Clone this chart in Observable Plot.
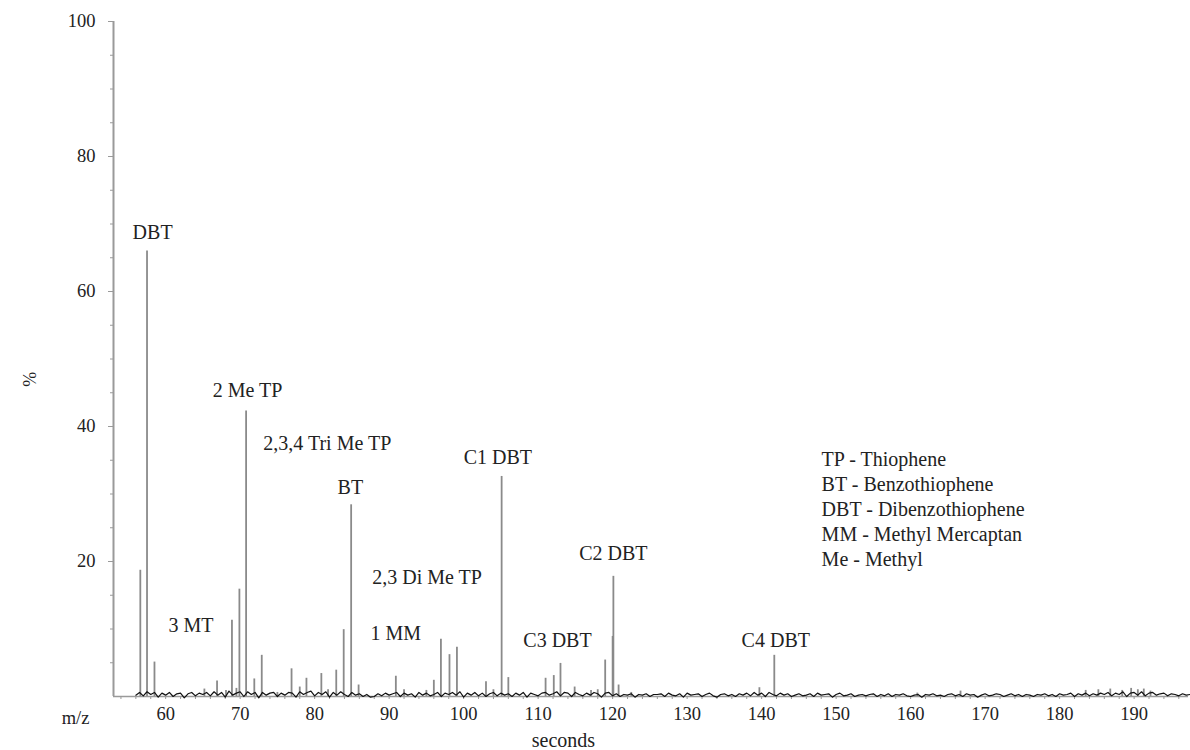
<!DOCTYPE html>
<html>
<head>
<meta charset="utf-8">
<script src="https://cdn.jsdelivr.net/npm/d3@7"></script>
<script src="https://cdn.jsdelivr.net/npm/@observablehq/plot@0.6"></script>
<style>
  html, body { margin: 0; padding: 0; background: #fff; }
</style>
</head>
<body>
<div id="chart"></div>
<script>
// Peak retention times (seconds) and intensities (%)
const peakTimes = [56.6, 57.5, 58.5, 65.2, 66.9, 68.1, 68.9, 69.5, 69.9, 70.8, 71.9, 72.9, 75.0, 76.9, 78.0, 78.9, 80.9, 81.8, 82.9, 83.9, 84.9, 85.9, 90.9, 92.0, 95.0, 96.0, 96.95, 98.1, 99.1, 103.0, 104.0, 105.1, 106.0, 111.0, 112.1, 113.0, 114.9, 117.1, 118.0, 119.0, 120.0, 120.1, 120.8, 122.5, 139.7, 141.7, 160.9, 166.7, 183.5, 185.2, 186.8, 188.4, 189.6, 190.5, 191.3, 192.2];
const peakHeights = [18.7, 66.0, 5.1, 1.1, 2.3, 0.9, 11.3, 1.2, 15.9, 42.3, 2.6, 6.1, 0.6, 4.1, 1.4, 2.7, 3.4, 1.0, 3.9, 9.9, 28.4, 1.7, 3.0, 1.0, 0.9, 2.4, 8.5, 6.2, 7.3, 2.2, 1.0, 32.6, 2.8, 2.7, 3.1, 4.9, 1.4, 0.9, 1.0, 5.4, 8.9, 17.8, 1.7, 0.6, 1.3, 6.1, 0.5, 0.8, 0.9, 1.0, 1.1, 0.9, 1.2, 1.0, 1.1, 0.8];

// Baseline noise, sampled every 0.5 s from 56.0 s
const noiseStart = 56.0;
const noiseStep = 0.5;
const noiseValues = [
  0.2,0.6,0.1,0.7,0.3,0.6,-0.1,0.5,0.2,0.6,0.0,0.4,0.5,-0.2,0.4,0.6,0.1,0.5,0.3,0.6,
  0.1,0.7,0.2,0.6,-0.1,0.8,0.2,0.5,0.7,0.0,0.7,0.3,0.6,-0.2,0.6,0.2,0.5,0.6,0.0,0.5,
  0.2,0.6,0.5,-0.1,0.7,0.3,0.6,0.8,0.1,0.6,0.3,0.7,-0.1,0.6,0.2,0.7,0.3,0.0,0.6,0.2,
  0.4,0.0,0.3,-0.1,0.0,0.4,0.1,0.5,0.2,0.4,0.6,0.0,0.5,0.2,0.4,-0.1,0.6,0.2,0.5,0.1,
  0.3,0.6,0.0,0.5,0.3,0.6,0.2,0.7,-0.1,0.5,0.2,0.6,0.1,0.5,0.0,0.4,0.6,0.1,0.5,0.2,
  0.4,0.0,0.5,0.2,0.6,-0.1,0.5,0.3,0.1,0.5,0.6,0.2,0.4,0.7,0.1,0.6,0.5,0.0,0.6,0.3,
  0.1,0.5,0.2,0.6,0.4,-0.1,0.5,0.6,0.1,0.4,0.0,0.3,0.2,0.4,-0.1,0.3,0.2,0.4,0.0,0.3,
  0.3,0.4,0.0,0.5,0.2,0.1,0.4,-0.1,0.5,0.2,0.3,0.4,0.0,0.3,0.5,0.1,-0.1,0.3,0.4,0.1,
  0.3,0.0,0.4,0.2,0.5,0.1,0.6,0.2,0.5,0.0,0.6,0.3,0.1,0.5,0.2,0.4,0.0,0.2,0.4,0.1,
  0.2,0.4,0.0,0.5,0.2,0.3,0.4,-0.1,0.3,0.5,0.1,0.2,0.4,0.0,0.2,0.3,0.1,0.3,0.4,0.0,
  0.3,0.1,0.4,0.0,0.3,0.2,0.4,0.1,0.0,0.2,0.3,-0.1,0.3,0.2,0.4,0.1,0.2,0.0,0.3,0.4,
  0.1,0.3,0.0,0.4,0.2,0.3,-0.1,0.2,0.4,0.1,0.2,0.4,0.3,0.0,0.2,0.4,0.1,0.3,0.0,0.3,
  0.2,0.0,0.3,0.2,0.4,0.1,0.3,0.0,0.4,0.2,0.3,0.5,0.0,0.4,0.2,0.5,0.1,0.4,0.2,0.5,
  0.3,0.6,0.1,0.5,0.3,0.7,0.0,0.5,0.6,0.2,0.7,0.1,0.5,0.6,0.2,0.4,0.5,0.1,0.4,0.3,
  0.1,0.4,0.2,0.3
];

// Peak annotations: label, time (s), intensity (%) of the label centre
const labelNames = ["DBT", "2 Me TP", "2,3,4 Tri Me TP", "BT", "3 MT", "1 MM", "2,3 Di Me TP", "C1 DBT", "C2 DBT", "C3 DBT", "C4 DBT"];
const labelTimes = [58.25, 71.0, 81.7, 84.8, 63.4, 90.9, 95.1, 104.6, 120.1, 112.6, 141.9];
const labelLevels = [68.7, 45.3, 37.5, 31.0, 10.5, 9.3, 17.6, 35.4, 21.2, 8.3, 8.3];

// Abbreviation key
const keyLines = ["TP - Thiophene", "BT - Benzothiophene", "DBT - Dibenzothiophene", "MM - Methyl Mercaptan", "Me - Methyl"];
const keyTime = 148.05;
const keyLevel = 27.9;

// Axis ticks
const xTickLabels = [60, 70, 80, 90, 100, 110, 120, 130, 140, 150, 160, 170, 180, 190];
const xMinorTicks = d3.range(54, 198, 2);
const yMajorTicks = [20, 40, 60, 80, 100];
const yMinorTicks = d3.range(5, 100, 5).filter(v => v % 20 !== 0);

const xDomain = [53.0, 197.3];

const peaks = peakTimes.map((t, i) => ({t, h: peakHeights[i]}));
const noise = noiseValues.map((v, i) => ({t: noiseStart + i * noiseStep, v}));
const labels = labelNames.map((name, i) => ({name, t: labelTimes[i], y: labelLevels[i]}));

const FONT = "Liberation Serif";

const chart = Plot.plot({
  width: 1190,
  height: 750,
  marginLeft: 113,
  marginRight: 2,
  marginTop: 21,
  marginBottom: 54,
  x: {domain: xDomain},
  y: {domain: [0, 100]},
  style: {fontFamily: FONT, fontSize: "18px", color: "#222", background: "#fff"},
  marks: [
    // axis lines
    Plot.ruleY([0], {stroke: "#9a9a9a", strokeWidth: 1.5}),
    Plot.ruleX([xDomain[0]], {y1: 0, y2: 100, stroke: "#9a9a9a", strokeWidth: 2}),
    // y axis ticks
    Plot.axisY(yMajorTicks, {tickSize: 5, tickPadding: 13, stroke: "#9a9a9a", fontSize: 18.5, fontFamily: FONT, label: null}),
    Plot.axisY(yMinorTicks, {tickSize: 3, stroke: "#9a9a9a", text: null, label: null}),
    // x axis ticks
    Plot.axisX(xTickLabels, {tickSize: 0, tickPadding: 10, fontSize: 18.5, fontFamily: FONT, label: null}),
    Plot.axisX(xMinorTicks, {tickSize: 3, stroke: "#9a9a9a", text: null, label: null}),
    // peaks
    Plot.ruleX(peaks, {x: "t", y1: 0, y2: "h", stroke: "#8a8a8a", strokeWidth: 1.8}),
    // baseline noise
    Plot.line(noise, {x: "t", y: "v", stroke: "#111", strokeWidth: 1.2}),
    // peak labels
    Plot.text(labels, {x: "t", y: "y", text: "name", fontSize: 20, fontFamily: FONT, fill: "#222", textAnchor: "middle", lineAnchor: "middle"}),
    // abbreviation key
    Plot.text([keyLines.join("\n")], {x: keyTime, y: keyLevel, textAnchor: "start", lineAnchor: "middle", lineHeight: 1.245, fontSize: 20, fontFamily: FONT, fill: "#222"}),
    // axis titles
    Plot.text(["%"], {frameAnchor: "left", y: 47, dx: -83, rotate: -90, fontSize: 18, fontFamily: FONT, fill: "#222", textAnchor: "middle", lineAnchor: "middle"}),
    Plot.text(["m/z"], {frameAnchor: "bottom-left", dx: -38, dy: 22, fontSize: 18.5, fontFamily: FONT, fill: "#222", textAnchor: "middle", lineAnchor: "middle"}),
    Plot.text(["seconds"], {x: 113.4, frameAnchor: "bottom", dy: 44, fontSize: 20, fontFamily: FONT, fill: "#222", textAnchor: "middle", lineAnchor: "middle"})
  ]
});

document.getElementById("chart").appendChild(chart);
</script>
</body>
</html>
